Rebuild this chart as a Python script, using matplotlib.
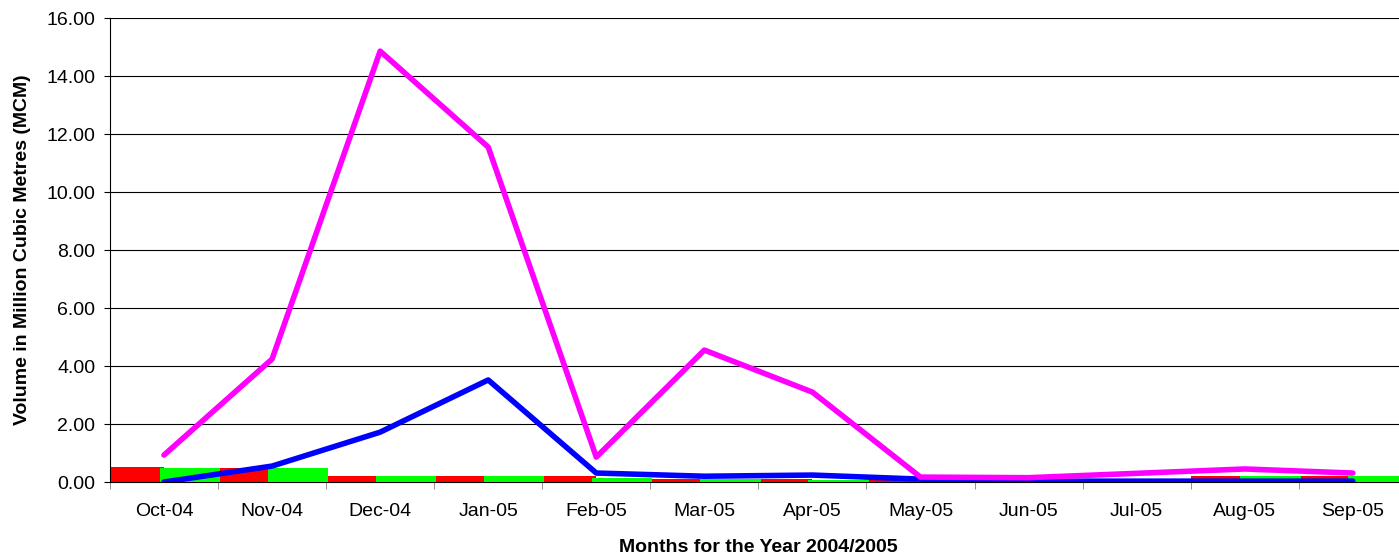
import matplotlib
matplotlib.use("Agg")
import matplotlib.pyplot as plt
import numpy as np

plt.rcParams['font.family'] = ['Liberation Sans', 'DejaVu Sans']

months = ['Oct-04', 'Nov-04', 'Dec-04', 'Jan-05', 'Feb-05', 'Mar-05',
          'Apr-05', 'May-05', 'Jun-05', 'Jul-05', 'Aug-05', 'Sep-05']
red_vals = [0.52, 0.48, 0.20, 0.20, 0.20, 0.10, 0.10, 0.08, 0.05, 0.08, 0.20, 0.20]
green_vals = [0.48, 0.48, 0.20, 0.20, 0.14, 0.10, 0.08, 0.06, 0.05, 0.10, 0.20, 0.20]
blue_vals = [0.00, 0.55, 1.72, 3.52, 0.31, 0.20, 0.24, 0.10, 0.03, 0.03, 0.03, 0.03]
magenta_vals = [0.93, 4.24, 14.86, 11.55, 0.86, 4.55, 3.10, 0.17, 0.15, 0.30, 0.45, 0.31]

fs = 14

fig = plt.figure(figsize=(13.99, 5.59), dpi=100)
ax = fig.add_axes([0.0786, 0.1377, 0.927, 0.830])

x = np.arange(len(months))

# bars (two series, no gap)
ax.bar(x - 0.25, red_vals, width=0.5, color='#ff0000', zorder=2)
ax.bar(x + 0.24, green_vals, width=0.56, color='#00ff00', zorder=3)

# lines
ax.plot(x, blue_vals, color='#0000ff', lw=4, solid_capstyle='round', zorder=4)
ax.plot(x, magenta_vals, color='#ff00ff', lw=4, solid_capstyle='round', zorder=5)

ax.set_xlim(-0.5, 11.5)
ax.set_ylim(0, 16)
ax.set_yticks(np.arange(0, 17, 2))
ax.set_yticklabels(['%.2f' % v for v in np.arange(0, 17, 2)], fontsize=fs)
ax.yaxis.grid(True, color='black', lw=0.8, zorder=0)
ax.set_axisbelow(True)

ax.set_xticks(x)
ax.set_xticklabels(months, fontsize=fs)
ax.set_xticks(np.arange(-0.5, 12, 1), minor=True)
ax.tick_params(axis='x', which='major', length=0, pad=15)
ax.tick_params(axis='x', which='minor', length=5, color='gray', direction='out')
ax.tick_params(axis='y', length=4.5, direction='out', color='black', pad=6)

for s in ['top', 'right']:
    ax.spines[s].set_visible(False)
ax.spines['left'].set_color('black')
ax.spines['bottom'].set_color('black')

ax.set_xlabel('Months for the Year 2004/2005', fontsize=fs, fontweight='bold', labelpad=14)
ax.set_ylabel('Volume in Million Cubic Metres (MCM)', fontsize=fs, fontweight='bold', labelpad=11)

fig.savefig('out.png', dpi=100)
